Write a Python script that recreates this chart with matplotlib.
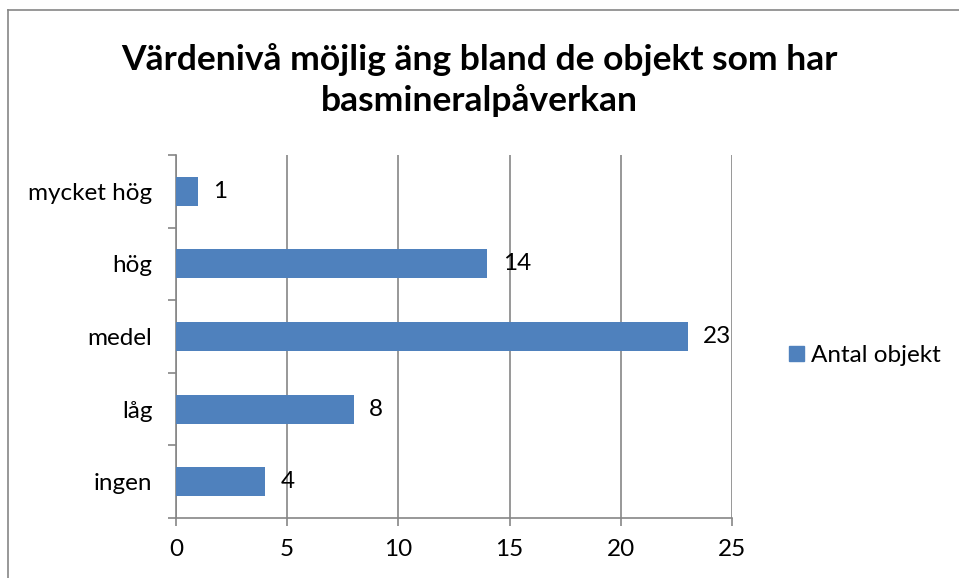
import matplotlib.pyplot as plt
from matplotlib.patches import Rectangle
from matplotlib.lines import Line2D

# data
categories = ["ingen", "låg", "medel", "hög", "mycket hög"]
values = [4, 8, 23, 14, 1]
series_name = "Antal objekt"
title = "Värdenivå möjlig äng bland de objekt som har\nbasmineralpåverkan"

bar_color = "#4F81BD"
axis_gray = "#868686"

plt.rcParams['font.family'] = ['Lato', 'DejaVu Sans']

fig = plt.figure(figsize=(9.59, 5.78), dpi=100)
ax = fig.add_axes([0.1835, 0.1038, 0.5798, 0.628])

y = range(len(categories))
bars = ax.barh(y, values, height=0.4, color=bar_color, label=series_name, zorder=3)

for yi, v in zip(y, values):
    ax.annotate(str(v), (v, yi), xytext=(11, 0), textcoords="offset points",
                va="center", ha="left", fontsize=17.5)

ax.set_xlim(0, 25)
ax.set_ylim(-0.5, len(categories) - 0.5)
ax.set_xticks([0, 5, 10, 15, 20, 25])
ax.set_yticks(list(y))
ax.set_yticklabels(categories)
ax.set_yticks([i - 0.5 for i in range(len(categories) + 1)], minor=True)

ax.tick_params(axis="y", which="major", length=0, pad=17, labelsize=17.5)
ax.tick_params(axis="y", which="minor", length=6, color=axis_gray, width=1.2)
ax.tick_params(axis="x", which="major", length=6, color=axis_gray, width=1.2,
               labelsize=17.5, pad=9)

ax.xaxis.grid(True, color=axis_gray, linewidth=1.2, zorder=0)
for s in ["top", "right"]:
    ax.spines[s].set_visible(False)
for s in ["left", "bottom"]:
    ax.spines[s].set_color(axis_gray)
    ax.spines[s].set_linewidth(1.2)

fig.text(0.5, 0.862, title, ha="center", va="center", fontsize=25.5,
         fontweight="bold", linespacing=1.3)

leg = fig.legend(handles=[Rectangle((0, 0), 1, 1, color=bar_color)],
                 labels=[series_name], loc="center left",
                 bbox_to_anchor=(0.8, 0.385), frameon=False, fontsize=17.5,
                 handlelength=0.6, handleheight=0.6, handletextpad=0.3)

# chart border (only top and left visible in the crop)
fig.add_artist(Line2D([8 / 959, 1.0], [1 - 10 / 578, 1 - 10 / 578],
                      color=axis_gray, linewidth=1.2, transform=fig.transFigure))
fig.add_artist(Line2D([8 / 959, 8 / 959], [0, 1 - 10 / 578],
                      color=axis_gray, linewidth=1.2, transform=fig.transFigure))

fig.savefig("out.png", dpi=100)
